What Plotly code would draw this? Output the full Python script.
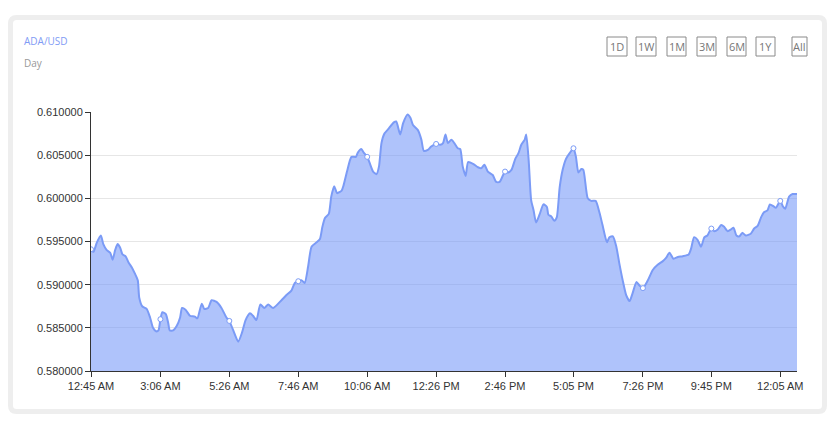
import pandas as pd
import plotly.graph_objects as go

# ADA/USD, one day of prices; minutes since 12:45 AM
START = pd.Timestamp("2021-05-19 00:45")

minutes = [
    0, 5, 12, 20, 25, 32, 39, 44, 49, 54, 59, 64, 70, 76, 83, 89, 95, 98, 104, 113,
    120, 126, 132, 137, 141, 145, 152, 157, 160, 167, 174, 181, 185, 192, 201, 211, 216, 225, 230, 238,
    245, 255, 265, 275, 281, 289, 299, 307, 314, 323, 329, 336, 344, 352, 360, 370, 387, 397, 407, 414,
    421, 428, 434, 441, 448, 458, 465, 470, 475, 483, 488, 494, 500, 509, 513, 520, 529, 538, 542, 549,
    554, 561, 566, 573, 580, 585, 590, 596, 605, 615, 620, 628, 634, 643, 649, 654, 664, 671, 676, 684,
    691, 701, 709, 715, 720, 725, 732, 738, 745, 750, 755, 761, 766, 776, 786, 793, 799, 806, 816, 823,
    830, 841, 847, 854, 862, 868, 874, 881, 884, 889, 894, 899, 904, 911, 919, 926, 929, 935, 941, 946,
    952, 958, 965, 973, 980, 985, 990, 996, 1000, 1009, 1016, 1025, 1033, 1039, 1048, 1053, 1060, 1067, 1073, 1080,
    1087, 1094, 1100, 1108, 1114, 1121, 1131, 1141, 1151, 1161, 1168, 1175, 1183, 1192, 1202, 1214, 1219, 1225, 1232, 1239,
    1246, 1252, 1260, 1266, 1273, 1280, 1286, 1293, 1300, 1305, 1311, 1317, 1323, 1330, 1340, 1347, 1354, 1361, 1367, 1374,
    1379, 1386, 1391, 1400, 1405, 1410, 1418, 1425, 1434,
]

prices = [
    0.5941, 0.5938, 0.5949, 0.5957, 0.5947, 0.5940, 0.5937, 0.5929, 0.5940, 0.5947,
    0.5943, 0.5935, 0.5933, 0.5926, 0.5920, 0.5913, 0.5905, 0.5885, 0.5875, 0.5872,
    0.5862, 0.5850, 0.5846, 0.5847, 0.5860, 0.5868, 0.5866, 0.5855, 0.5847, 0.5847,
    0.5852, 0.5862, 0.5873, 0.5871, 0.5864, 0.5863, 0.5861, 0.5878, 0.5872, 0.5873,
    0.5882, 0.5880, 0.5873, 0.5862, 0.5858, 0.5847, 0.5834, 0.5845, 0.5859, 0.5867,
    0.5864, 0.5859, 0.5877, 0.5873, 0.5877, 0.5873, 0.5882, 0.5888, 0.5893, 0.5902,
    0.5904, 0.5905, 0.5902, 0.5921, 0.5944, 0.5949, 0.5953, 0.5967, 0.5977, 0.5982,
    0.6002, 0.6014, 0.6006, 0.6009, 0.6015, 0.6031, 0.6048, 0.6048, 0.6053, 0.6057,
    0.6053, 0.6048, 0.6041, 0.6031, 0.6028, 0.6037, 0.6064, 0.6075, 0.6081, 0.6088,
    0.6089, 0.6074, 0.6087, 0.6097, 0.6093, 0.6085, 0.6079, 0.6068, 0.6055, 0.6056,
    0.6060, 0.6063, 0.6062, 0.6064, 0.6074, 0.6064, 0.6068, 0.6064, 0.6058, 0.6057,
    0.6037, 0.6026, 0.6042, 0.6040, 0.6036, 0.6035, 0.6039, 0.6031, 0.6027, 0.6019,
    0.6019, 0.6031, 0.6030, 0.6033, 0.6046, 0.6052, 0.6062, 0.6068, 0.6074, 0.6044,
    0.5998, 0.5986, 0.5972, 0.5981, 0.5993, 0.5990, 0.5981, 0.5979, 0.5974, 0.5978,
    0.6013, 0.6033, 0.6046, 0.6053, 0.6058, 0.6048, 0.6030, 0.6034, 0.6033, 0.6000,
    0.5997, 0.5997, 0.5983, 0.5969, 0.5949, 0.5955, 0.5956, 0.5944, 0.5925, 0.5905,
    0.5888, 0.5881, 0.5890, 0.5903, 0.5899, 0.5896, 0.5905, 0.5917, 0.5923, 0.5927,
    0.5931, 0.5937, 0.5930, 0.5932, 0.5933, 0.5935, 0.5942, 0.5955, 0.5952, 0.5944,
    0.5955, 0.5957, 0.5965, 0.5962, 0.5964, 0.5969, 0.5967, 0.5962, 0.5964, 0.5966,
    0.5957, 0.5956, 0.5960, 0.5957, 0.5959, 0.5965, 0.5968, 0.5978, 0.5984, 0.5986,
    0.5993, 0.5991, 0.5989, 0.5997, 0.5991, 0.5988, 0.6002, 0.6005, 0.6005,
]

# x ticks (minutes since start) and their labels; the small dots sit on these
tick_minutes = [0, 141, 281, 421, 561, 701, 841, 980, 1121, 1260, 1400]
tick_labels = ["12:45 AM", "3:06 AM", "5:26 AM", "7:46 AM", "10:06 AM", "12:26 PM",
               "2:46 PM", "5:05 PM", "7:26 PM", "9:45 PM", "12:05 AM"]
tick_prices = [0.5941, 0.5860, 0.5858, 0.5904, 0.6048, 0.6063, 0.6031, 0.6058,
               0.5896, 0.5965, 0.5997]

y_ticks = [0.58, 0.585, 0.59, 0.595, 0.60, 0.605, 0.61]
ranges = ["1D", "1W", "1M", "3M", "6M", "1Y", "All"]

# the page body has an 8px margin, so the figure starts at (8, 8)
OFF = 8
W, H = 820, 406
L, R, T, B = 83, 31, 104, 43
PW, PH = W - L - R, H - T - B


def px(x):
    # page pixel -> paper fraction
    return (x - OFF - L) / PW


def py(y):
    return (H - B - (y - OFF)) / PH


def to_time(mins):
    return START + pd.to_timedelta(mins, unit="m")


times = to_time(pd.Series(minutes))
tick_times = to_time(pd.Series(tick_minutes))

fig = go.Figure()

fig.add_trace(
    go.Scatter(
        x=times,
        y=prices,
        mode="lines",
        line=dict(color="#7b9bf6", width=2, shape="spline", smoothing=0.6),
        fill="tozeroy",
        fillcolor="rgba(110,145,248,0.55)",
        hoverinfo="skip",
    )
)

fig.add_trace(
    go.Scatter(
        x=tick_times,
        y=tick_prices,
        mode="markers",
        marker=dict(size=5, color="white", line=dict(color="#7b9bf6", width=1)),
        hoverinfo="skip",
    )
)

# rounded light-grey card border
x0, y0, x1, y1, r = 10.5, 17.5, 824.5, 411.5, 6
path = (
    f"M {px(x0 + r)},{py(y0)} L {px(x1 - r)},{py(y0)} "
    f"Q {px(x1)},{py(y0)} {px(x1)},{py(y0 + r)} "
    f"L {px(x1)},{py(y1 - r)} Q {px(x1)},{py(y1)} {px(x1 - r)},{py(y1)} "
    f"L {px(x0 + r)},{py(y1)} Q {px(x0)},{py(y1)} {px(x0)},{py(y1 - r)} "
    f"L {px(x0)},{py(y0 + r)} Q {px(x0)},{py(y0)} {px(x0 + r)},{py(y0)} Z"
)
shapes = [dict(type="path", xref="paper", yref="paper", path=path,
               line=dict(color="#eeeeee", width=5), layer="below")]

annotations = [
    dict(text="ADA/USD", x=px(22), y=py(41), xref="paper", yref="paper",
         xanchor="left", yanchor="middle", showarrow=False,
         font=dict(family="Open Sans", size=10, color="#7f9cf5")),
    dict(text="Day", x=px(22), y=py(63), xref="paper", yref="paper",
         xanchor="left", yanchor="middle", showarrow=False,
         font=dict(family="Open Sans", size=10, color="#999999")),
]

# range buttons drawn as boxes with labels
btn_left = [607, 636, 667, 697, 727, 756, 792]
btn_right = [627, 656, 686, 716, 746, 775, 807]
for name, bl, br in zip(ranges, btn_left, btn_right):
    shapes.append(dict(type="rect", xref="paper", yref="paper",
                       x0=px(bl), x1=px(br), y0=py(37), y1=py(56),
                       line=dict(color="#8a8a8a", width=1)))
    annotations.append(dict(text=name, x=px((bl + br) / 2), y=py(46.5),
                            xref="paper", yref="paper", showarrow=False,
                            xanchor="center", yanchor="middle",
                            font=dict(family="Open Sans", size=11, color="#777777")))

fig.update_layout(
    width=W,
    height=H,
    margin=dict(l=L, r=R, t=T, b=B, pad=0),
    paper_bgcolor="white",
    plot_bgcolor="white",
    showlegend=False,
    hovermode=False,
    font=dict(family="Liberation Sans, Arial", size=11, color="#333333"),
    shapes=shapes,
    annotations=annotations,
    xaxis=dict(
        range=[times.iloc[0], times.iloc[-1]],
        tickvals=tick_times,
        ticktext=tick_labels,
        showgrid=False,
        zeroline=False,
        showline=True,
        linecolor="#333333",
        linewidth=1,
        ticks="outside",
        ticklen=5,
        tickcolor="#333333",
    ),
    yaxis=dict(
        range=[0.58, 0.61],
        tickvals=y_ticks,
        tickformat=".6f",
        showgrid=True,
        gridcolor="#e6e6e6",
        zeroline=False,
        showline=True,
        linecolor="#333333",
        linewidth=1,
        ticks="outside",
        ticklen=5,
        tickcolor="#333333",
    ),
)

fig.write_html("out.html")
